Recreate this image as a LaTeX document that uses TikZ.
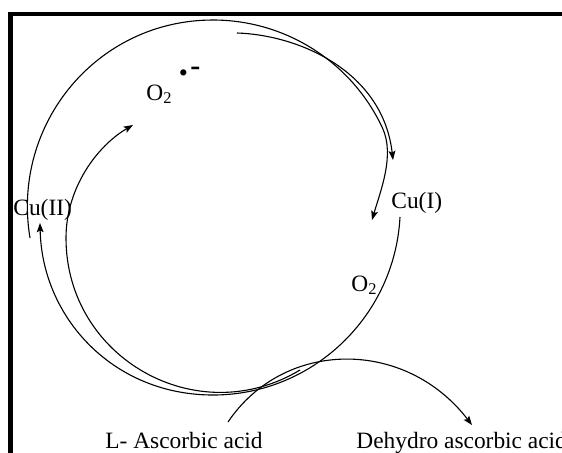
\documentclass[tikz,border=0pt]{standalone}
\usepackage{fontspec}
\setmainfont{Liberation Serif}
\usepackage{tikz}
\usetikzlibrary{arrows.meta}

\begin{document}
\begin{tikzpicture}[x=0.5pt,y=-0.5pt,
  every node/.style={font=\fontsize{11.7}{14}\selectfont,inner sep=0pt,anchor=base west},
  ring/.style={line width=0.55pt},
  tip/.style={-{Stealth[length=4.6pt,width=3.4pt,inset=0.9pt]}}]
  \useasboundingbox (0,0) rectangle (562,452);
  \clip (0,0) rectangle (562,452);
  % frame, it runs off the page at right and bottom
  \draw[line width=2.2pt] (10.5,14) rectangle (620,520);
  % labels
  \node (cu2) at (13,215) {Cu(II)};
  \node (cu1) at (391,208) {Cu(I)};
  \node (o2top) at (146,100) {O\textsubscript{2}};
  \node (rad) at (178.5,81) {\fontsize{13}{13}\selectfont\textbullet};
  \node (minus) at (190,75) {\fontsize{15}{15}\selectfont\bfseries -};
  \node (o2) at (351,291) {O\textsubscript{2}};
  \node (asc) at (105,448) {L- Ascorbic acid};
  \node (dha) at (356,448) {Dehydro ascorbic acid};
  % end points of the arcs
  \coordinate (a0) at (30,238);
  \coordinate (a1) at (372,220);
  \coordinate (b0) at (237,33);
  \coordinate (b1) at (393,160);
  \coordinate (c0) at (400,217);
  \coordinate (c1) at (40,223);
  \coordinate (d0) at (300,370);
  \coordinate (d1) at (133,125);
  \coordinate (e0) at (228,422);
  \coordinate (e1) at (472,425);
  % outer ring: Cu(II) over the top to Cu(I)
  \draw[ring,tip] (a0) .. controls (11,124) and (97,20) .. (213,20)
    .. controls (285.7,20) and (351.8,62.1) .. (382.5,128)
    .. controls (395,155) and (380.5,191) .. (a1);
  % second arrow along the top right
  \draw[ring,tip] (b0) .. controls (300,35) and (383,72) .. (b1);
  % Cu(I) round the bottom back to Cu(II)
  \draw[ring,tip] (c0) .. controls (394.8,316.4) and (312.5,395) .. (213,395)
    .. controls (113.5,395) and (42,318) .. (c1);
  % inner arc up to the radical
  \draw[ring,tip] (d0) .. controls (197,432) and (66,358) .. (66,238)
    .. controls (66,188) and (97,146) .. (d1);
  % ascorbic acid to dehydro ascorbic acid
  \draw[ring,tip] (e0) .. controls (284,339) and (405,338) .. (e1);
\end{tikzpicture}
\end{document}
